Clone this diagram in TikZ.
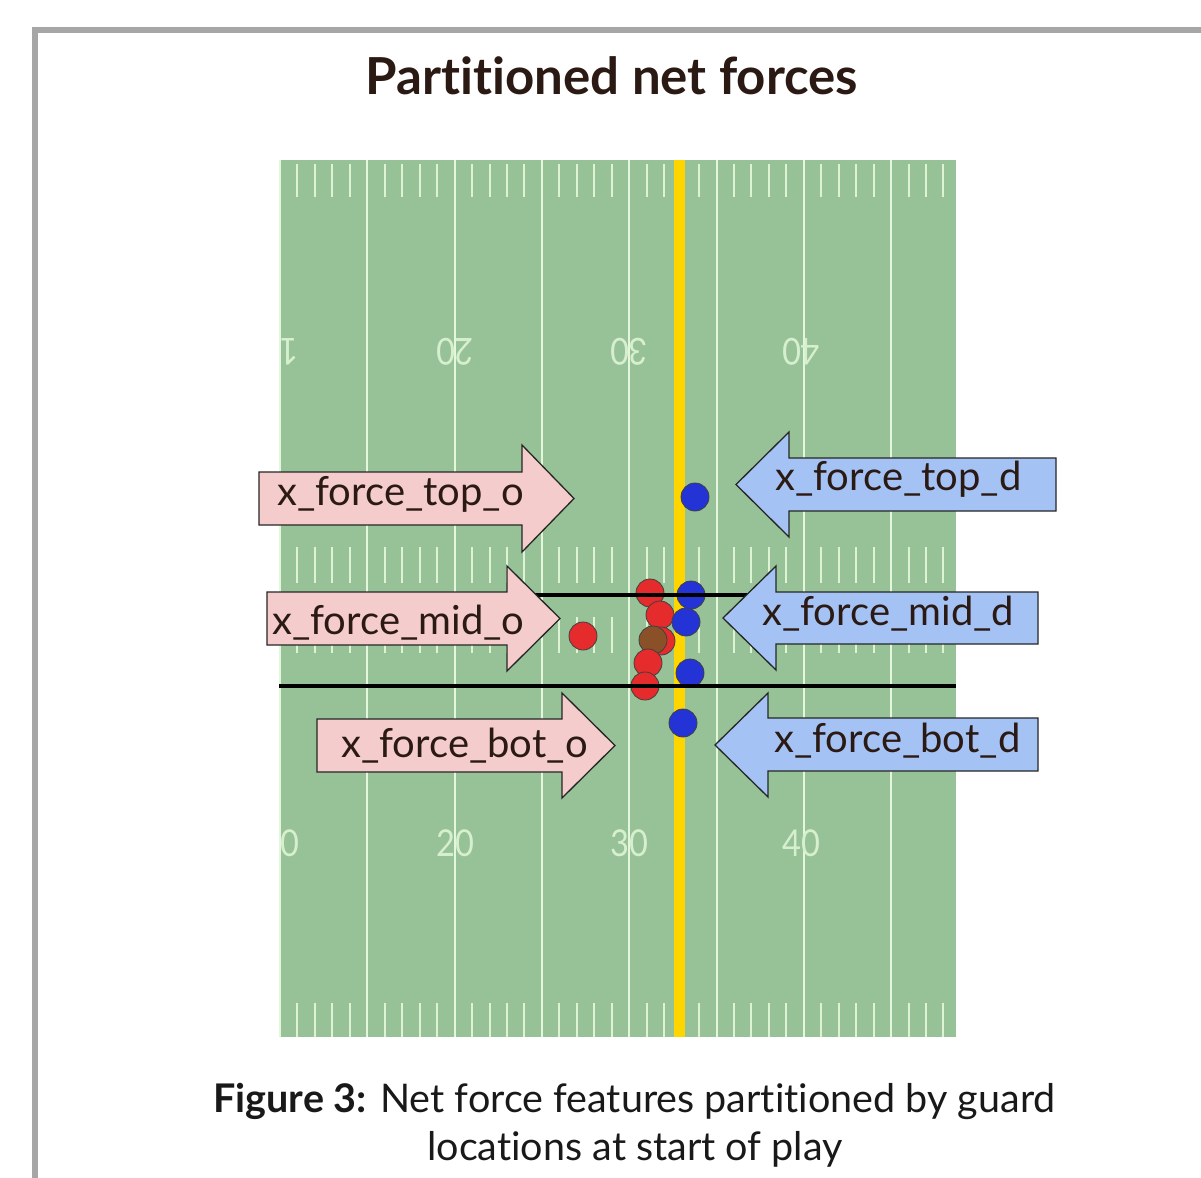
\documentclass[tikz,border=0pt]{standalone}
\usepackage{fontspec}
\setmainfont{Lato}[Ligatures=NoCommon]
\definecolor{fieldgreen}{HTML}{97C197}
\definecolor{yardline}{HTML}{E4F7DC}
\definecolor{hashcol}{HTML}{DDF3D4}
\definecolor{numcol}{HTML}{D6EFCE}
\definecolor{goldline}{HTML}{FFD500}
\definecolor{pinkfill}{HTML}{F4CCCC}
\definecolor{bluefill}{HTML}{A4C2F4}
\definecolor{redplayer}{HTML}{E52B2B}
\definecolor{blueplayer}{HTML}{2433D6}
\definecolor{brownplayer}{HTML}{8A5028}
\definecolor{framegray}{HTML}{A6A6A6}
\definecolor{textdark}{HTML}{2B1A14}
\tikzset{
  player/.style={circle, draw=black!75, line width=0.8, minimum size=28, inner sep=0},
  offarrow/.style={fill=pinkfill, draw=black!85, line width=1.3, line join=miter},
  defarrow/.style={fill=bluefill, draw=black!85, line width=1.3, line join=miter},
  arrowlabel/.style={anchor=base west, inner sep=0, text=textdark, font=\fontsize{40}{48}\selectfont},
  yardnum/.style={text=numcol, inner sep=0, font=\fontsize{37}{44}\selectfont, xscale=0.88},
  partline/.style={black, line width=3.5},
  captext/.style={anchor=base, inner sep=0, text=black!90, font=\fontsize{39.5}{48}\selectfont}
}
\begin{document}
\begin{tikzpicture}[x=1pt,y=-1pt]
\useasboundingbox (0,0) rectangle (1201,1177);
\fill[white] (0,0) rectangle (1201,1177);
\begin{scope}
\clip (0,0) rectangle (1201,1177);
\draw[framegray, line width=6] (35,1240) -- (35,30) -- (1260,30);
\end{scope}

\node[anchor=base, inner sep=0, text=textdark, font=\bfseries\fontsize{51}{60}\selectfont] (title) at (612,95) {Partitioned net forces};

% field
\fill[fieldgreen] (279,160) rectangle (956,1037);
\begin{scope}
\clip (279,160) rectangle (956,1037);
\foreach \g in {0,...,7}{
  \draw[yardline, line width=2] ({280+\g*87.3},160) -- ({280+\g*87.3},1037);
  \foreach \j in {1,...,4}{
    \draw[hashcol, line width=2]
      ({280+\g*87.3+\j*17.46},164) -- ({280+\g*87.3+\j*17.46},197)
      ({280+\g*87.3+\j*17.46},547) -- ({280+\g*87.3+\j*17.46},583)
      ({280+\g*87.3+\j*17.46},617) -- ({280+\g*87.3+\j*17.46},653)
      ({280+\g*87.3+\j*17.46},1003) -- ({280+\g*87.3+\j*17.46},1037);
  }
}
\foreach \n/\xx in {10/280,20/455,30/629,40/801}{
  \node[yardnum] (bot\n) at (\xx,843) {\n};
  \node[yardnum, rotate=180] (top\n) at (\xx,352) {\n};
}
\end{scope}
\fill[goldline] (673.5,160) rectangle (685,1037);

% players
\node[player, fill=redplayer] (o1) at (583,636) {};
\node[player, fill=redplayer] (o2) at (650,593) {};
\node[player, fill=redplayer] (o3) at (660,615) {};
\node[player, fill=redplayer] (o4) at (661,641) {};
\node[player, fill=brownplayer] (ball) at (653,640) {};
\node[player, fill=redplayer] (o5) at (648,663) {};
\node[player, fill=redplayer] (o6) at (645,686) {};
\node[player, fill=blueplayer] (d1) at (695,497) {};
\node[player, fill=blueplayer] (d2) at (691,595) {};
\node[player, fill=blueplayer] (d3) at (686,622) {};
\node[player, fill=blueplayer] (d4) at (690,673) {};
\node[player, fill=blueplayer] (d5) at (683,723) {};

% partition lines
\draw[partline] (279,595) -- (956,595);
\draw[partline] (279,686) -- (956,686);

% arrows
\draw[offarrow] (259,472) -- (522,472) -- (522,445) -- (574,498.5) -- (522,552) -- (522,525) -- (259,525) -- cycle;
\node[arrowlabel] (topo) at (277,505) {x\_force\_top\_o};

\draw[defarrow] (1056,458) -- (789,458) -- (789,432) -- (736,484.5) -- (789,537) -- (789,511) -- (1056,511) -- cycle;
\node[arrowlabel] (topd) at (775,490) {x\_force\_top\_d};

\draw[offarrow] (267,592) -- (507,592) -- (507,566) -- (560,618.5) -- (507,671) -- (507,645) -- (267,645) -- cycle;
\node[arrowlabel] (mido) at (272,634) {x\_force\_mid\_o};

\draw[defarrow] (1038,592) -- (776,592) -- (776,566) -- (723,618) -- (776,670) -- (776,644) -- (1038,644) -- cycle;
\node[arrowlabel] (midd) at (762,625) {x\_force\_mid\_d};

\draw[offarrow] (317,719) -- (562,719) -- (562,693) -- (615,745.5) -- (562,798) -- (562,772) -- (317,772) -- cycle;
\node[arrowlabel] (boto) at (341,757) {x\_force\_bot\_o};

\draw[defarrow] (1038,718) -- (768,718) -- (768,693) -- (715,745) -- (768,797) -- (768,771) -- (1038,771) -- cycle;
\node[arrowlabel] (botd) at (774,752) {x\_force\_bot\_d};

% caption
\node[captext] (cap1) at (634.5,1112) {\textbf{Figure 3:} Net force features partitioned by guard};
\node[captext] (cap2) at (635,1160) {locations at start of play};
\end{tikzpicture}
\end{document}
